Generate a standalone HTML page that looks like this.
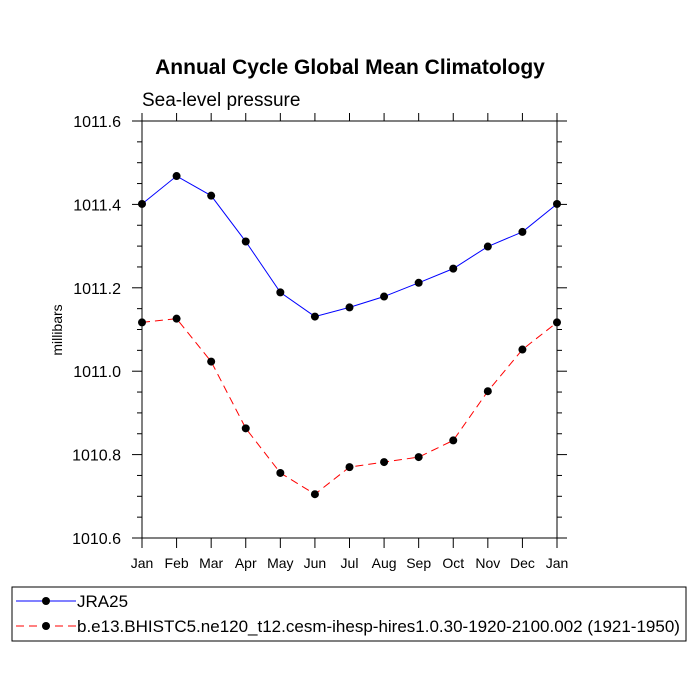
<!DOCTYPE html>
<html><head><meta charset="utf-8"><style>body{margin:0;background:#fff}svg{display:block;font-family:"Liberation Sans",sans-serif}</style></head>
<body>
<svg id="chart" width="700" height="700" viewBox="0 0 700 700"></svg>
<script>
const months=["Jan","Feb","Mar","Apr","May","Jun","Jul","Aug","Sep","Oct","Nov","Dec","Jan"];
const jra=[1011.401,1011.468,1011.421,1011.311,1011.189,1011.131,1011.153,1011.179,1011.212,1011.246,1011.299,1011.334,1011.401];
const model=[1011.117,1011.126,1011.023,1010.863,1010.756,1010.705,1010.770,1010.782,1010.794,1010.834,1010.952,1011.052,1011.117];
const yTicks=[1010.6,1010.8,1011.0,1011.2,1011.4,1011.6];
const NS="http://www.w3.org/2000/svg";
const svg=document.getElementById('chart');
const L=142,R=557,T=121,B=538,ymin=1010.6,ymax=1011.6;
const xs=i=>L+i*(R-L)/12;
const ys=v=>B-(v-ymin)/(ymax-ymin)*(B-T);
function el(t,a,p){const e=document.createElementNS(NS,t);for(const k in a)e.setAttribute(k,a[k]);(p||svg).appendChild(e);return e;}
function line(x1,y1,x2,y2,c,w){return el('line',{x1,y1,x2,y2,stroke:c||'#000','stroke-width':w||1});}
function text(x,y,s,opt){const e=el('text',Object.assign({x,y,'font-size':14,fill:'#000'},opt||{}));e.textContent=s;return e;}
let t=text(350,74,"Annual Cycle Global Mean Climatology",{'text-anchor':'middle','font-size':21,'font-weight':'bold'});


t=text(142,106,"Sea-level pressure",{'font-size':19});


t=text(0,0,"millibars",{'font-size':14,'text-anchor':'middle',transform:'translate(62,330) rotate(-90)'});


const frame=el('rect',{x:L,y:T,width:R-L,height:B-T,fill:'none',stroke:'#000','stroke-width':1});


for(let v=ymin;v<=ymax+1e-9;v+=0.05){
  const y=ys(v);const major=Math.abs(Math.round(v*10)/10-v)<1e-6&&Math.round(v*10)%2===0;
  const len=major?10:5;
  line(L-len,y,L,y);line(R,y,R+len,y);
}
yTicks.forEach(v=>{const e=text(L-21,ys(v)+6,v.toFixed(1),{'text-anchor':'end','font-size':16});

});
months.forEach((m,i)=>{const x=xs(i);line(x,B,x,B+10);line(x,T-8,x,T);
const e=text(x,B+30,m,{'text-anchor':'middle','font-size':14});

});
function series(vals,color,dash,name){
  const p=el('polyline',{points:vals.map((v,i)=>xs(i)+','+ys(v)).join(' '),fill:'none',stroke:color,'stroke-width':1,'stroke-dasharray':dash});
  
  
  vals.forEach((v,i)=>{const c=el('circle',{cx:xs(i),cy:ys(v),r:4,fill:'#000'});
  
  });
}
series(jra,'#00f','none','jra25');
series(model,'#f00','8,5','model');
const lg=el('g',{});


el('rect',{x:12,y:587,width:674,height:54,fill:'none',stroke:'#000','stroke-width':1},lg);
el('line',{x1:16,y1:601,x2:76,y2:601,stroke:'#00f'},lg);
el('circle',{cx:46,cy:601,r:4},lg);
let e=el('text',{x:77,y:607,'font-size':17},lg);e.textContent="JRA25";
el('line',{x1:16,y1:626,x2:76,y2:626,stroke:'#f00','stroke-dasharray':'8,5'},lg);
el('circle',{cx:46,cy:626,r:4},lg);
e=el('text',{x:77,y:632,'font-size':17},lg);e.textContent="b.e13.BHISTC5.ne120_t12.cesm-ihesp-hires1.0.30-1920-2100.002 (1921-1950)";
</script>
</body></html>
